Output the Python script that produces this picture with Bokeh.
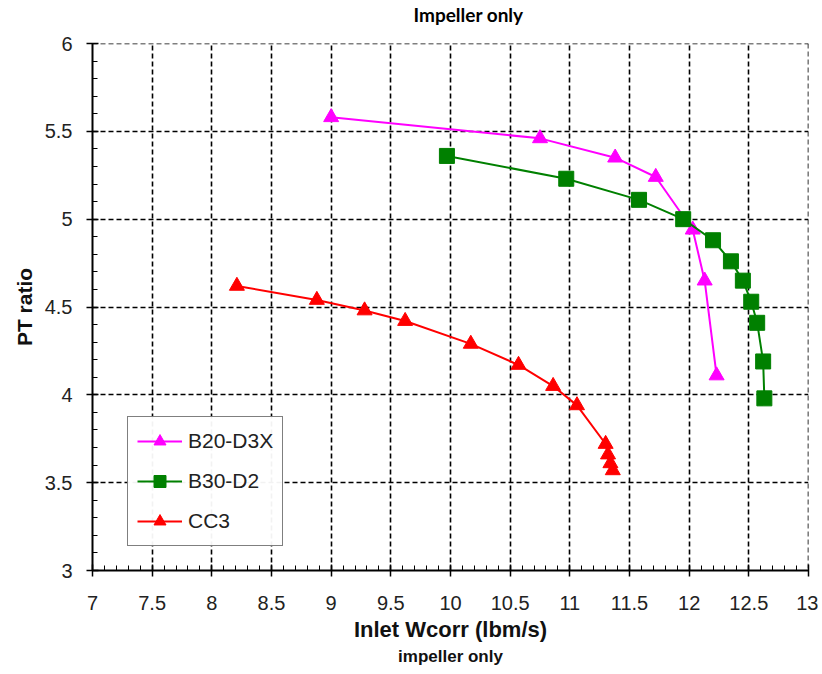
from bokeh.plotting import figure
from bokeh.models import (Range1d, SingleIntervalTicker, CustomJSTickFormatter,
                          Legend, LegendItem, Title, Span)
from bokeh.embed import file_html
from bokeh.resources import INLINE

# --- data ---
b20_x = [9.00, 10.75, 11.38, 11.72, 12.03, 12.13, 12.23]
b20_y = [5.58, 5.46, 5.35, 5.24, 4.94, 4.65, 4.11]

b30_x = [9.97, 10.97, 11.58, 11.95, 12.20, 12.35, 12.45, 12.52, 12.57, 12.62, 12.63]
b30_y = [5.36, 5.23, 5.11, 5.00, 4.88, 4.76, 4.65, 4.53, 4.41, 4.19, 3.98]

cc3_x = [8.21, 8.88, 9.28, 9.62, 10.17, 10.57, 10.86, 11.06, 11.30, 11.32, 11.34, 11.36]
cc3_y = [4.62, 4.54, 4.48, 4.42, 4.29, 4.17, 4.05, 3.94, 3.72, 3.66, 3.61, 3.57]

series_names = ["B20-D3X", "B30-D2", "CC3"]
series_colors = ["#FF00FF", "#008000", "#FF0000"]

x_min, x_max = 7, 13
y_min, y_max = 3, 6

title_text = "Impeller only"
x_label = "Inlet Wcorr (lbm/s)"
y_label = "PT ratio"
bottom_note = "impeller only"

p = figure(width=818, height=670, output_backend="svg", toolbar_location=None,
           x_range=Range1d(x_min, x_max), y_range=Range1d(y_min, y_max),
           min_border_left=92, min_border_right=10, min_border_top=0,
           min_border_bottom=100)

# real title
p.title.text = title_text
p.title.align = "left"
p.title.offset = 321
p.title.standoff = 0
p.title.text_font = "Lato"
p.title.text_font_style = "bold"
p.title.text_font_size = "19px"
p.title.text_color = "black"

# thin spacer title placed between the title and the frame
spacer = Title(text=" ", text_font_size="1px", standoff=15)
p.add_layout(spacer, "above")

p.outline_line_color = None
p.background_fill_color = "white"

xt = SingleIntervalTicker(interval=0.5, num_minor_ticks=5)
yt = SingleIntervalTicker(interval=0.5, num_minor_ticks=5)
p.xaxis.ticker = xt
p.yaxis.ticker = yt
p.xgrid.ticker = xt
p.ygrid.ticker = yt

fmt = CustomJSTickFormatter(code="return String(Number(tick.toFixed(2)));")
p.xaxis.formatter = fmt
p.yaxis.formatter = fmt

for ax in (p.xaxis[0], p.yaxis[0]):
    ax.axis_line_color = "black"
    ax.axis_line_width = 2
    ax.major_tick_line_color = "black"
    ax.major_tick_line_width = 1.5
    ax.major_tick_in = 6
    ax.major_tick_out = 6
    ax.minor_tick_line_color = "black"
    ax.minor_tick_line_width = 1
    ax.minor_tick_in = 5
    ax.minor_tick_out = 0
    ax.major_label_text_font = "Liberation Sans"
    ax.major_label_text_font_size = "20px"
    ax.major_label_text_color = "#222222"
    ax.axis_label_text_font = "Liberation Sans"
    ax.axis_label_text_font_style = "bold"
    ax.axis_label_text_color = "#111111"

p.xaxis.axis_label = x_label
p.yaxis.axis_label = y_label
p.xaxis.axis_label_text_font_size = "22px"
p.yaxis.axis_label_text_font_size = "21px"
p.xaxis.major_label_standoff = 19
p.xaxis.axis_label_standoff = 4
p.yaxis.major_label_standoff = 14
p.yaxis.axis_label_standoff = 6

for g in (p.xgrid[0], p.ygrid[0]):
    g.grid_line_color = "black"
    g.grid_line_width = 1.6
    g.grid_line_dash = "5 3"

# dashed frame edges at the top and right, like the grid
p.add_layout(Span(location=y_max, dimension="width", line_color="black",
                  line_width=1.6, line_dash="5 3"))
p.add_layout(Span(location=x_max, dimension="height", line_color="black",
                  line_width=1.6, line_dash="5 3"))

items = []
data = [(b20_x, b20_y, "triangle"), (b30_x, b30_y, "square"), (cc3_x, cc3_y, "triangle")]
for (xs, ys, mk), name, col in zip(data, series_names, series_colors):
    ln = p.line(xs, ys, line_color=col, line_width=2)
    sc = p.scatter(xs, ys, marker=mk, size=15, fill_color=col, line_color=col)
    items.append(LegendItem(label=name, renderers=[ln, sc]))

legend = Legend(items=items, location=(35, 24))
legend.border_line_color = "black"
legend.border_line_width = 1.5
legend.background_fill_color = "white"
legend.label_text_font = "Liberation Sans"
legend.label_text_font_size = "21px"
legend.label_text_color = "#222222"
legend.glyph_width = 45
legend.glyph_height = 30
legend.label_height = 30
legend.spacing = 10
legend.padding = 9
legend.margin = 0
legend.label_standoff = 6
p.add_layout(legend, "center")

note = Title(text=bottom_note, align="center", text_font="Liberation Sans",
             text_font_style="bold", text_font_size="17px", text_color="#111111",
             standoff=0, offset=-5)
p.add_layout(note, "below")

open("out.html", "w").write(file_html(p, INLINE))
